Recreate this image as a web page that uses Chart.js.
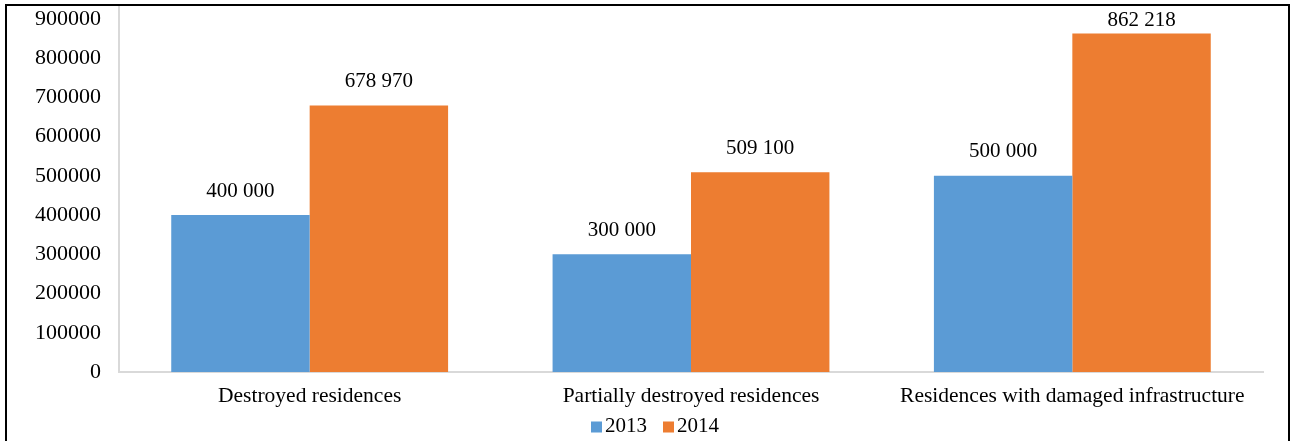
<!DOCTYPE html>
<html>
<head>
<meta charset="utf-8">
<script src="https://cdn.jsdelivr.net/npm/chart.js@4.4.1/dist/chart.umd.min.js"></script>
<style>
html,body{margin:0;padding:0;background:#fff;}
#wrap{position:relative;width:1292px;height:441px;}
</style>
</head>
<body>
<div id="wrap"><canvas id="c" width="1292" height="441"></canvas></div>
<script>
const categories = ["Destroyed residences", "Partially destroyed residences", "Residences with damaged infrastructure"];
const seriesNames = ["2013", "2014"];
const seriesColors = ["#5B9BD5", "#ED7D31"];
const values2013 = [400000, 300000, 500000];
const values2014 = [678970, 509100, 862218];
const yTickMax = 900000;
const yStep = 100000;

const FONT = "'Liberation Serif', 'Times New Roman', serif";

function fmtSpace(v){ return String(v).replace(/\B(?=(\d{3})+(?!\d))/g, " "); }

const labelPlugin = {
  id: 'valueLabels',
  afterDatasetsDraw(chart){
    const ctx = chart.ctx;
    ctx.save();
    ctx.font = "21px " + FONT;
    ctx.fillStyle = "#000";
    ctx.textAlign = "center";
    ctx.textBaseline = "middle";
    const minY = chart.chartArea.top + 15;
    chart.data.datasets.forEach((ds, i) => {
      const meta = chart.getDatasetMeta(i);
      meta.data.forEach((el, j) => {
        ctx.fillText(fmtSpace(ds.data[j]), el.x, Math.max(el.y - 24, minY));
      });
    });
    ctx.restore();
  }
};

const legendPlugin = {
  id: 'customLegend',
  afterDraw(chart){
    const ctx = chart.ctx;
    ctx.save();
    ctx.font = "21px " + FONT;
    ctx.textBaseline = "middle";
    ctx.textAlign = "left";
    const cy = 426;
    const box = 11, gap = 3, itemGap = 16;
    const widths = seriesNames.map(n => box + gap + ctx.measureText(n).width);
    const total = widths.reduce((a,b)=>a+b,0) + itemGap*(seriesNames.length-1);
    let x = 655 - total/2;
    seriesNames.forEach((n, i) => {
      ctx.fillStyle = seriesColors[i];
      ctx.fillRect(x, cy - box/2 + 1, box, box);
      ctx.fillStyle = "#000";
      ctx.fillText(n, x + box + gap, cy);
      x += widths[i] + itemGap;
    });
    ctx.restore();
  }
};

const framePlugin = {
  id: 'frame',
  afterDraw(chart){
    const ctx = chart.ctx;
    ctx.save();
    ctx.strokeStyle = "#000";
    ctx.lineWidth = 2;
    ctx.beginPath();
    ctx.moveTo(6, 441);
    ctx.lineTo(6, 5);
    ctx.lineTo(1289, 5);
    ctx.lineTo(1289, 441);
    ctx.stroke();
    ctx.restore();
  }
};

new Chart(document.getElementById('c'), {
  type: 'bar',
  data: {
    labels: categories,
    datasets: [
      { label: seriesNames[0], data: values2013, backgroundColor: seriesColors[0], categoryPercentage: 0.726, barPercentage: 1.0 },
      { label: seriesNames[1], data: values2014, backgroundColor: seriesColors[1], categoryPercentage: 0.726, barPercentage: 1.0 }
    ]
  },
  options: {
    responsive: false,
    animation: false,
    devicePixelRatio: 1,
    layout: { padding: { left: 8, right: 29, top: 5, bottom: 29 } },
    plugins: {
      legend: { display: false },
      tooltip: { enabled: false }
    },
    scales: {
      x: {
        afterFit(scale){ scale.height = 40; scale.paddingLeft = 0; scale.paddingRight = 0; },
        grid: { display: false, drawTicks: false },
        border: { display: true, color: '#D9D9D9', width: 2 },
        ticks: { font: { family: FONT, size: 21.5 }, color: '#000', padding: 11, maxRotation: 0, autoSkip: false }
      },
      y: {
        min: 0,
        max: 935000,
        afterBuildTicks(axis){
          const t = [];
          for (let v = 0; v <= yTickMax; v += yStep) t.push({ value: v });
          axis.ticks = t;
        },
        afterFit(scale){ scale.width = 111; scale.paddingTop = 0; scale.paddingBottom = 0; },
        grid: { display: false, drawTicks: false },
        border: { display: true, color: '#D9D9D9', width: 2 },
        ticks: { font: { family: FONT, size: 22 }, color: '#000', padding: 18, callback: v => String(v) }
      }
    }
  },
  plugins: [labelPlugin, legendPlugin, framePlugin]
});
</script>
</body>
</html>
